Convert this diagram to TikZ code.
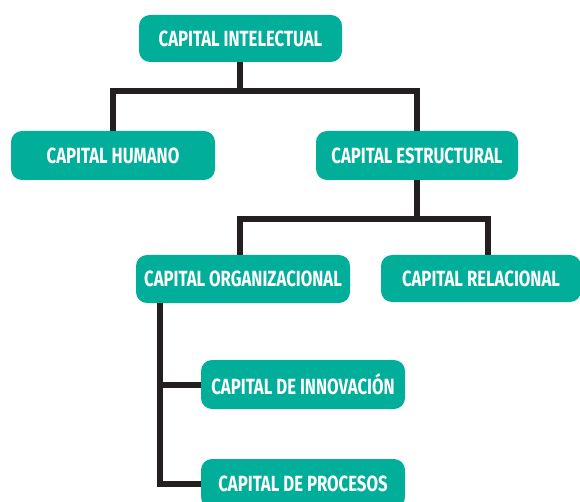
\documentclass[tikz,border=0pt]{standalone}
\usepackage{fontspec}
\setmainfont[FakeStretch=0.76]{Fira Sans}
\usepackage{tikz}
\usetikzlibrary{calc,positioning}
\tikzset{>=stealth}
\definecolor{capteal}{RGB}{0,174,154}
\definecolor{capline}{RGB}{35,31,32}
\tikzset{capbox/.style={fill=capteal,text=white,rounded corners=11pt,
    minimum height=48pt,inner sep=0pt,
    font=\bfseries\fontsize{22}{24}\selectfont},
  conn/.style={draw=capline,line width=6pt}}

\begin{document}
\begin{tikzpicture}[x=1pt,y=-1pt]
\useasboundingbox (0,0) rectangle (580,502);

% nodos
\node[capbox,minimum width=203pt,minimum height=47pt] (intel) at (240.5,38.5) {CAPITAL INTELECTUAL};
\node[capbox,minimum width=204pt,minimum height=49pt] (humano) at (113,155.5) {CAPITAL HUMANO};
\node[capbox,minimum width=202pt,minimum height=49pt] (estruc) at (417,155.5) {CAPITAL ESTRUCTURAL};
\node[capbox,minimum width=214pt] (organ) at (243,279) {CAPITAL ORGANIZACIONAL};
\node[capbox,minimum width=200pt,minimum height=47pt] (relac) at (481,278.5) {CAPITAL RELACIONAL};
\node[capbox,minimum width=204pt,minimum height=49pt] (innov) at (303,384.5) {CAPITAL DE INNOVACI\'ON};
\node[capbox,minimum width=204pt,minimum height=49pt] (proces) at (303,483.5) {CAPITAL DE PROCESOS};

% conectores
\coordinate (j1) at (240,91);
\draw[conn] (intel.south -| j1) -- (j1);
\draw[conn] (humano.north) |- (j1) -| (estruc.north);

\coordinate (j2) at (240,219);
\draw[conn] (estruc.south) -- (estruc.south |- j2);
\draw[conn] (organ.north -| j2) |- (j2) -| ($(relac.north)+(7,0)$);

\draw[conn] ($(organ.south west)+(24,0)$) |- (proces.west);
\draw[conn] ($(organ.south west)+(24,0)$) |- (innov.west);
\end{tikzpicture}
\end{document}
